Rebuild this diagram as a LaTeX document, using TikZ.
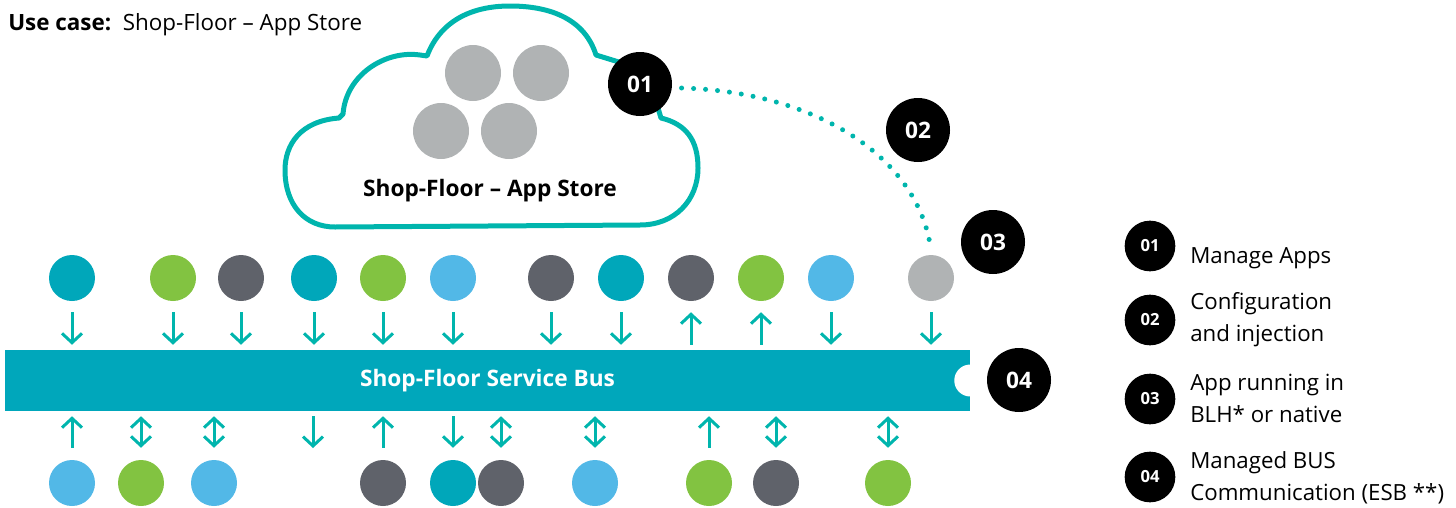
\documentclass[tikz,border=0pt]{standalone}
\usepackage{fontspec}
\setmainfont{Open Sans}
\usetikzlibrary{arrows.meta}
\definecolor{tl}{HTML}{00A7BA}
\definecolor{gr}{HTML}{82C341}
\definecolor{dk}{HTML}{5F626A}
\definecolor{lb}{HTML}{52B8E7}
\definecolor{gy}{HTML}{B0B3B4}
\definecolor{ar}{HTML}{00B5AD}
\definecolor{bs}{HTML}{00A7BB}

\begin{document}
\begin{tikzpicture}[x=0.75pt, y=-0.75pt,
  >={Straight Barb[length=7pt, width=15pt]},
  app/.style={circle, fill=#1, minimum size=34.5pt, inner sep=0pt},
  store app/.style={circle, fill=gy, minimum size=42pt, inner sep=0pt},
  badge/.style={circle, fill=black, text=white, minimum size=48pt, inner sep=0pt, font=\fontsize{17}{20}\selectfont\bfseries},
  key/.style={circle, fill=black, text=white, minimum size=38pt, inner sep=0pt, font=\fontsize{12.5}{15}\selectfont\bfseries},
  keytext/.style={anchor=west, align=left, inner sep=0pt, font=\fontsize{16.7}{24}\selectfont},
  uplink/.style={draw=ar, line width=2.25pt, shorten <=8.25pt, shorten >=3.75pt},
  downlink/.style={draw=ar, line width=2.25pt, shorten <=9pt, shorten >=3.75pt}]
  \useasboundingbox (0,0) rectangle (1456,507);

  \node[anchor=base west, inner sep=0pt, font=\fontsize{16.8}{20}\selectfont] (title) at (8,30) {\textbf{Use case:}\ \ Shop-Floor – App Store};

  % cloud
  \draw[draw=ar, line width=3.75pt, line join=round]
    (335,227) -- (640,225) .. controls (675,225) and (698,200) .. (698,168)
    .. controls (698,140) and (686,124) .. (661,118) -- (658,108) -- (622,63) -- (596,55)
    .. controls (585,20) and (552,6) .. (510,6) .. controls (470,6) and (440,22) .. (427,56)
    -- (420,55) .. controls (385,50) and (346,75) .. (343,114) -- (339,118)
    .. controls (300,121) and (285,145) .. (285,170) .. controls (285,205) and (305,227) .. (335,227) -- cycle;
  \node[store app] (s1) at (473,73) {};
  \node[store app] (s2) at (541,73) {};
  \node[store app] (s3) at (441,131) {};
  \node[store app] (s4) at (509,131) {};
  \node[font=\fontsize{17}{20}\selectfont\bfseries] (store) at (490,191) {Shop-Floor – App Store};

  % bus
  \node[fill=bs, text=white, minimum width=723.75pt, minimum height=45.75pt, inner sep=0pt, font=\fontsize{17}{20}\selectfont\bfseries] (bus) at (487.5,380.5) {Shop-Floor Service Bus};
  \fill[white] (bus.east) circle (12pt);

  % apps above the bus
  \node[app=tl] (t1) at (72,278) {};
  \node[app=gr] (t2) at (173,278) {};
  \node[app=dk] (t3) at (241,278) {};
  \node[app=tl] (t4) at (314,278) {};
  \node[app=gr] (t5) at (383,278) {};
  \node[app=lb] (t6) at (453,278) {};
  \node[app=dk] (t7) at (551,278) {};
  \node[app=tl] (t8) at (621,278) {};
  \node[app=dk] (t9) at (691,278) {};
  \node[app=gr] (t10) at (761,278) {};
  \node[app=lb] (t11) at (831,278) {};
  \node[app=gy] (t12) at (931,278) {};

  \draw[uplink, ->] (t1) -- (t1 |- bus.north);
  \draw[uplink, ->] (t2) -- (t2 |- bus.north);
  \draw[uplink, ->] (t3) -- (t3 |- bus.north);
  \draw[uplink, ->] (t4) -- (t4 |- bus.north);
  \draw[uplink, ->] (t5) -- (t5 |- bus.north);
  \draw[uplink, ->] (t6) -- (t6 |- bus.north);
  \draw[uplink, ->] (t7) -- (t7 |- bus.north);
  \draw[uplink, ->] (t8) -- (t8 |- bus.north);
  \draw[uplink, <-] (t9) -- (t9 |- bus.north);
  \draw[uplink, <-] (t10) -- (t10 |- bus.north);
  \draw[uplink, ->] (t11) -- (t11 |- bus.north);
  \draw[uplink, ->] (t12) -- (t12 |- bus.north);

  % apps below the bus
  \node[app=lb] (b1) at (72,483) {};
  \node[app=gr] (b2) at (141,483) {};
  \node[app=lb] (b3) at (214,483) {};
  \coordinate (b0) at (313,460);
  \node[app=dk] (b4) at (383,483) {};
  \node[app=tl] (b5) at (453,483) {};
  \node[app=dk] (b6) at (501,483) {};
  \node[app=lb] (b7) at (595,483) {};
  \node[app=gr] (b8) at (709,483) {};
  \node[app=dk] (b9) at (776,483) {};
  \node[app=gr] (b10) at (888,483) {};

  \draw[downlink, ->] (b1) -- (b1 |- bus.south);
  \draw[downlink, <->] (b2) -- (b2 |- bus.south);
  \draw[downlink, <->] (b3) -- (b3 |- bus.south);
  \draw[downlink, <-] (b0) -- (b0 |- bus.south);
  \draw[downlink, ->] (b4) -- (b4 |- bus.south);
  \draw[downlink, <-] (b5) -- (b5 |- bus.south);
  \draw[downlink, <->] (b6) -- (b6 |- bus.south);
  \draw[downlink, <->] (b7) -- (b7 |- bus.south);
  \draw[downlink, ->] (b8) -- (b8 |- bus.south);
  \draw[downlink, <->] (b9) -- (b9 |- bus.south);
  \draw[downlink, <->] (b10) -- (b10 |- bus.south);

  % numbered steps
  \node[badge] (n1) at (640,84) {01};
  \node[badge] (n2) at (918,130) {02};
  \node[badge] (n3) at (993,242) {03};
  \node[badge] (n4) at (1019,380) {04};
  \draw[draw=ar, line width=3.75pt, line cap=round, dash pattern=on 0pt off 9pt]
    ([xshift=7pt, yshift=-3pt]n1.east) .. controls (820,92) and (920,160) .. ([yshift=3pt]t12.north);

  % legend
  \node[key] (k1) at (1150,246) {01};
  \node[key] (k2) at (1150,320) {02};
  \node[key] (k3) at (1150,399) {03};
  \node[key] (k4) at (1150,477) {04};
  \node[keytext] (l1) at (1190,258) {Manage Apps};
  \node[keytext] (l2) at (1190,320) {Configuration\\and injection};
  \node[keytext] (l3) at (1190,398) {App running in\\BLH* or native};
  \node[keytext] (l4) at (1190,478) {Managed BUS\\Communication (ESB **)};
\end{tikzpicture}
\end{document}
